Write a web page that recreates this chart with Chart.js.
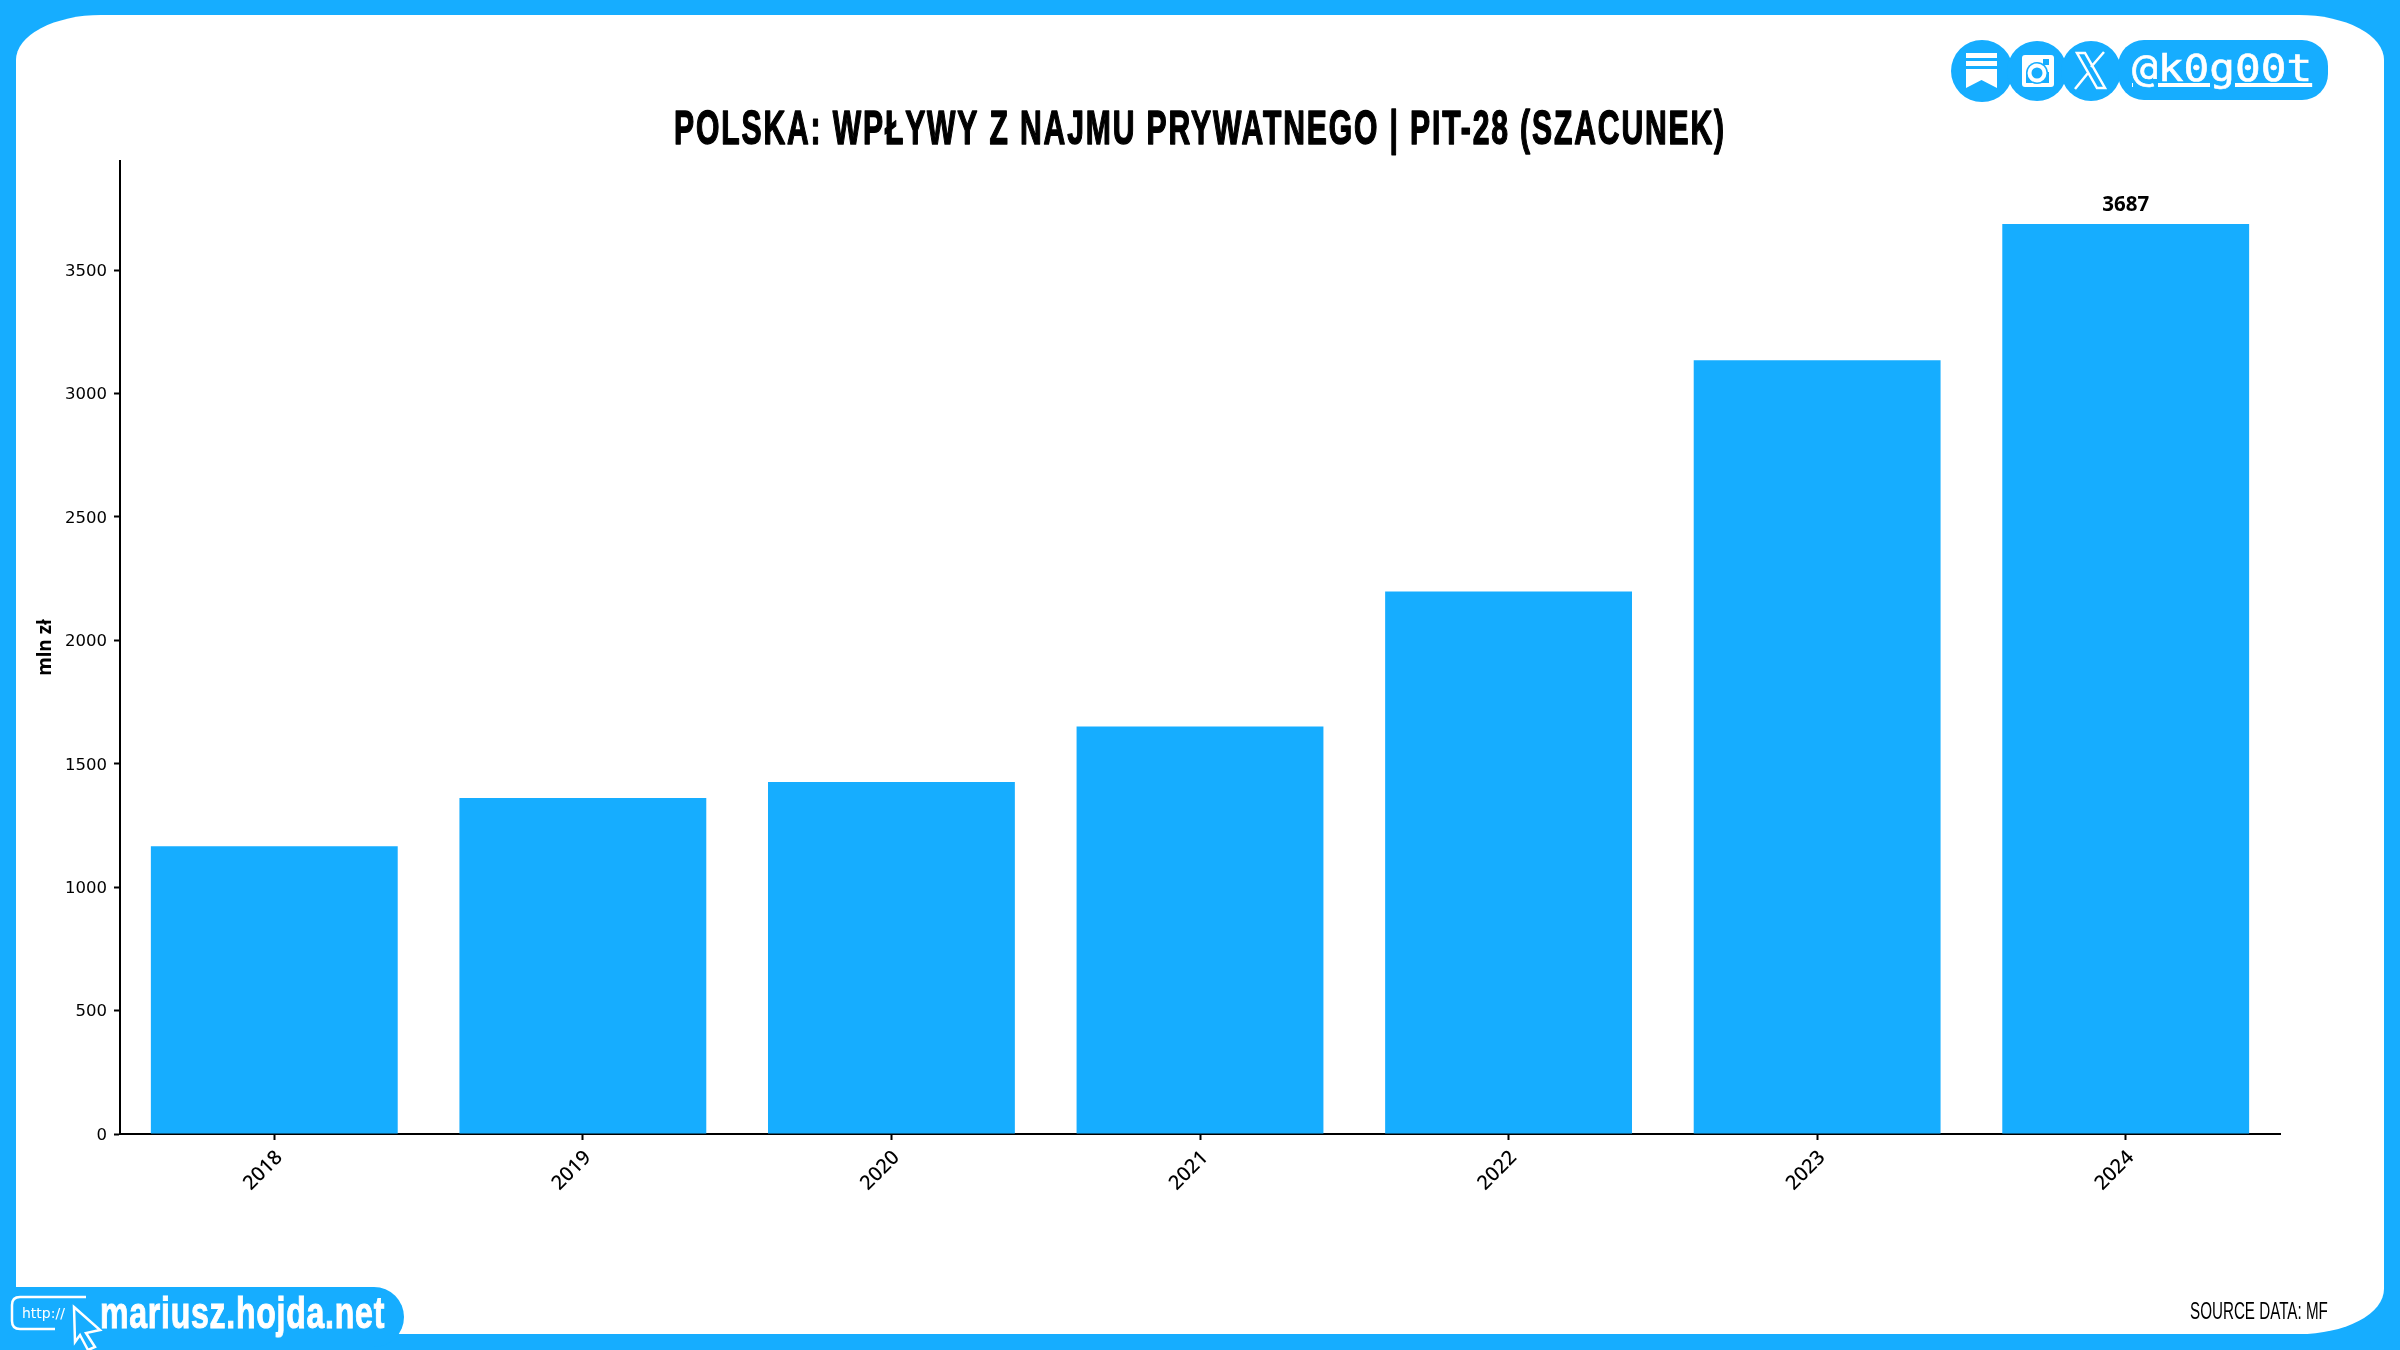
<!DOCTYPE html>
<html>
<head>
<meta charset="utf-8">
<script src="https://cdn.jsdelivr.net/npm/chart.js@4/dist/chart.umd.min.js"></script>
<style>
  html, body { margin: 0; padding: 0; background: #16adff; }
  #page { position: relative; width: 2400px; height: 1350px; overflow: hidden; background: #16adff; }
  #sheet { position: absolute; left: 16px; top: 15px; width: 2368px; height: 1319px; background: #fff; border-radius: 85px / 45px; }
  #chart-wrap { position: absolute; left: 0; top: 0; width: 2400px; height: 1350px; }
  #tab { position: absolute; left: 0; top: 1287px; width: 404px; height: 60px; background: #16adff; border-radius: 0 30px 30px 0; }
  .fit { position: absolute; white-space: nowrap; transform-origin: left center; }
  #site { left: 100px; top: 1285px; color: #fff; font: bold 44px "Liberation Sans", sans-serif; line-height: 56px; letter-spacing: 1px; -webkit-text-stroke: 1px #fff; }
  #http { left: 22px; top: 1304px; color: #fff; font: 14px "DejaVu Sans", sans-serif; line-height: 18px; }
  #source { left: 2190px; top: 1298px; color: #000; font: 23px "Liberation Sans", sans-serif; line-height: 26px; }
  #handle-bg { position: absolute; left: 2118px; top: 40px; width: 210px; height: 60px; background: #16adff; border-radius: 26px; }
  #handle { left: 2132px; top: 40px; color: #fff; font: 38px "DejaVu Sans Mono", monospace; line-height: 56px; text-decoration: underline; text-decoration-thickness: 4px; -webkit-text-stroke: 0.6px #fff; }
  svg { position: absolute; left: 0; top: 0; }
</style>
</head>
<body>
<div id="page">
  <div id="sheet"></div>
  <div id="chart-wrap"><canvas id="chart-bar" width="2400" height="1350"></canvas></div>
  <div id="tab"></div>
  <svg width="2400" height="1350" fill="none">
    <!-- top right icons -->
    <circle cx="1982" cy="71" r="31" fill="#16adff"/>
    <circle cx="2037" cy="71" r="30" fill="#16adff"/>
    <circle cx="2091" cy="71" r="30" fill="#16adff"/>
    <path d="M1966 53h31v5h-31zM1966 61h31v5h-31zM1966 69h31v19l-15.500 -8 -15.500 8z" fill="#fff"/>
    <rect x="2022" y="55" width="32" height="32" rx="3" fill="#fff"/>
    <rect x="2026" y="72" width="23" height="11" fill="#16adff"/>
    <circle cx="2037" cy="73" r="11" fill="#16adff"/>
    <circle cx="2037" cy="73" r="7.500" stroke="#fff" stroke-width="4"/>
    <rect x="2043" y="59" width="6" height="6" fill="#16adff"/>
    <path d="M2077 53h8l20 35h-8zM2104 52l-13 15M2088 73l-13 16" stroke="#fff" stroke-width="2.500"/>
    <!-- cursor and url box bottom left -->
    <path d="M86 1297H20q-8 0 -8 8v16q0 8 8 8H55" stroke="#fff" stroke-width="2.500"/>
    <path d="M74 1307L100 1330L86 1333L95 1347L88 1350L80 1335L75 1342Z" fill="#16adff" stroke="#fff" stroke-width="2.500"/>
  </svg>
  <div id="handle-bg"></div>
  <div id="handle" class="fit" data-w="180">@k0g00t</div>
  <div id="http" class="fit" data-w="43">http://</div>
  <div id="site" class="fit" data-w="285">mariusz.hojda.net</div>
  <div id="source" class="fit" data-w="138">SOURCE DATA: MF</div>
</div>
<script>
// values
const years = ["2018", "2019", "2020", "2021", "2022", "2023", "2024"];
const pit28 = [1166, 1361, 1426, 1651, 2198, 3135, 3687];
const yTicks = [0, 500, 1000, 1500, 2000, 2500, 3000, 3500];
const chartTitle = "POLSKA: WPŁYWY Z NAJMU PRYWATNEGO | PIT-28 (SZACUNEK)";
const barColor = "#16adff";

// no condensed font here, so squeeze the html labels to their widths
document.querySelectorAll(".fit").forEach((el) => {
  const w = Number(el.dataset.w);
  el.style.transform = `scaleX(${w / el.offsetWidth})`;
});

// title squeezed the same way on the canvas
const condensedTitle = {
  id: "condensedTitle",
  afterDraw(chart) {
    const ctx = chart.ctx;
    ctx.save();
    ctx.font = 'bold 48px "Liberation Sans"';
    ctx.letterSpacing = "3px";
    ctx.fillStyle = "#000";
    ctx.strokeStyle = "#000";
    ctx.lineWidth = 1.5;
    ctx.lineJoin = "round";
    ctx.textBaseline = "alphabetic";
    const sx = 1052 / ctx.measureText(chartTitle).width;
    ctx.translate(674, 144);
    ctx.scale(sx, 1);
    ctx.strokeText(chartTitle, 0, 0);
    ctx.fillText(chartTitle, 0, 0);
    ctx.restore();
  },
};

// only the last bar carries a number
const lastBarLabel = {
  id: "lastBarLabel",
  afterDatasetsDraw(chart) {
    const i = pit28.length - 1;
    const bar = chart.getDatasetMeta(0).data[i];
    const ctx = chart.ctx;
    ctx.save();
    ctx.fillStyle = "#000";
    ctx.font = 'bold 20.5px "Noto Sans"';
    ctx.textAlign = "center";
    ctx.textBaseline = "bottom";
    ctx.fillText(String(pit28[i]), bar.x, bar.y - 9);
    ctx.restore();
  },
};

var ctx = document.getElementById("chart-bar").getContext("2d");

new Chart(ctx, {
  type: "bar",
  data: {
    labels: years,
    datasets: [
      {
        label: "PIT-28",
        data: pit28,
        backgroundColor: barColor,
        borderWidth: 0,
        barPercentage: 0.8,
        categoryPercentage: 1,
      },
    ],
  },
  options: {
    responsive: false,
    animation: false,
    layout: { padding: { left: 0, right: 120, top: 161, bottom: 0 } },
    plugins: {
      legend: { display: false },
      tooltip: { enabled: false },
    },
    scales: {
      x: {
        afterFit: (s) => { s.height = 216; },
        grid: { offset: false, drawOnChartArea: false, drawTicks: true, tickLength: 6, tickColor: "#000", tickWidth: 2 },
        border: { display: true, color: "#000", width: 2 },
        ticks: {
          color: "#000",
          padding: 6,
          labelOffset: 5,
          maxRotation: 45,
          minRotation: 45,
          font: { family: "Noto Sans", size: 20, weight: "500" },
        },
      },
      y: {
        min: 0,
        max: 3942,
        afterFit: (s) => { s.width = 120; },
        afterBuildTicks: (s) => { s.ticks = yTicks.map((v) => ({ value: v })); },
        grid: { drawOnChartArea: false, drawTicks: true, tickLength: 6, tickColor: "#000", tickWidth: 2 },
        border: { display: true, color: "#000", width: 2 },
        title: {
          display: true,
          text: "mln zł",
          color: "#000",
          font: { family: "Noto Sans", size: 19, weight: "bold" },
          padding: { top: 34, bottom: 0 },
        },
        ticks: {
          color: "#000",
          padding: 7,
          labelOffset: 1.5,
          callback: (v) => String(v),
          font: { family: "DejaVu Sans", size: 16.5 },
        },
      },
    },
  },
  plugins: [lastBarLabel, condensedTitle],
});
</script>
</body>
</html>
